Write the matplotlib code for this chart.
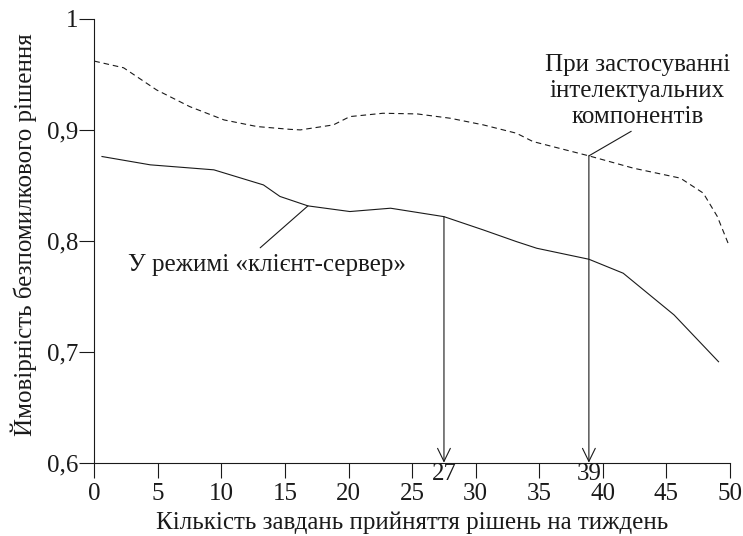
import matplotlib
matplotlib.use("Agg")
import matplotlib.pyplot as plt

plt.rcParams['font.family'] = ['Liberation Serif', 'DejaVu Serif']

# values
x_intel = [0, 2.3, 4.9, 7.5, 10.2, 12.8, 15.4, 16.2, 18.8, 20.1, 22.7, 25.4, 28.0,
           30.6, 33.2, 34.5, 38.9, 42.4, 46.1, 47.9, 49.0, 49.95]
y_intel = [0.962, 0.956, 0.936, 0.921, 0.909, 0.903, 0.9005, 0.900, 0.9045, 0.912,
           0.915, 0.9144, 0.9105, 0.9045, 0.897, 0.8895, 0.8766, 0.8655, 0.8565,
           0.843, 0.822, 0.795]

x_cs = [0.6, 4.4, 9.4, 13.3, 14.6, 16.8, 20.1, 23.3, 27.5, 30.6, 33.2, 34.8, 38.9,
        41.6, 45.6, 49.1]
y_cs = [0.876, 0.8685, 0.864, 0.8504, 0.840, 0.8315, 0.8264, 0.8294, 0.8218,
        0.8098, 0.7993, 0.7933, 0.7834, 0.7708, 0.7332, 0.691]

x_ticks = [0, 5, 10, 15, 20, 25, 30, 35, 40, 45, 50]
y_ticks = [0.6, 0.7, 0.8, 0.9, 1.0]
y_ticklabels = ['0,6', '0,7', '0,8', '0,9', '1']

mark_cs = (27.5, 0.8218, '27')
mark_intel = (38.9, 0.8766, '39')

label_cs = 'У режимі «клієнт-сервер»'
label_intel = 'При застосуванні\nінтелектуальних\nкомпонентів'

fs = 18
col = '#1a1a1a'

fig = plt.figure(figsize=(7.43, 5.36), dpi=100)
ax = fig.add_axes([0.127, 0.1368, 0.8555, 0.8278])

ax.plot(x_intel, y_intel, color=col, lw=0.8, linestyle=(0, (5, 3.5)))
ax.plot(x_cs, y_cs, color=col, lw=0.8)

ax.set_xlim(0, 50)
ax.set_ylim(0.6, 1.0)
ax.set_xticks(x_ticks)
ax.set_yticks(y_ticks)
ax.set_yticklabels(y_ticklabels)
ax.tick_params(direction='out', length=10.5, width=0.8, color=col, labelsize=fs,
               labelcolor=col)
ax.tick_params(axis='y', pad=1)
ax.tick_params(axis='x', pad=4)
for s in ['top', 'right']:
    ax.spines[s].set_visible(False)
for s in ['left', 'bottom']:
    ax.spines[s].set_linewidth(0.8)
    ax.spines[s].set_color(col)

ax.set_xlabel('Кількість завдань прийняття рішень на тиждень', fontsize=fs,
              color=col, labelpad=4.5)
ax.set_ylabel('Ймовірність безпомилкового рішення', fontsize=fs, color=col)
ax.yaxis.set_label_coords(-0.09, 0.515)

# arrows down to the x axis
arrow = dict(arrowstyle='->,head_length=0.47,head_width=0.23', color=col, lw=0.8,
             mutation_scale=20, shrinkA=0, shrinkB=0)
for mx, my, lab in [mark_cs, mark_intel]:
    ax.annotate('', xy=(mx, 0.6), xytext=(mx, my), arrowprops=arrow)
    ax.annotate(lab, xy=(mx, 0.6), xytext=(0, -7.8), textcoords='offset points',
                ha='center', va='center', fontsize=fs, color=col)

# callout texts
ax.annotate(label_cs, xy=(16.8, 0.8315), xytext=(13.56, 0.778),
            fontsize=fs, color=col, ha='center', va='center',
            arrowprops=dict(arrowstyle='-', color=col, lw=0.8, shrinkA=4, shrinkB=0,
                            relpos=(0.45, 1.0)))
ax.annotate(label_intel, xy=mark_intel[:2], xytext=(42.7, 0.935),
            fontsize=fs, color=col, ha='center', va='center', linespacing=1.22,
            arrowprops=dict(arrowstyle='-', color=col, lw=0.8, shrinkA=1, shrinkB=0,
                            relpos=(0.5, 0.0)))

fig.savefig('out.png', dpi=100)
